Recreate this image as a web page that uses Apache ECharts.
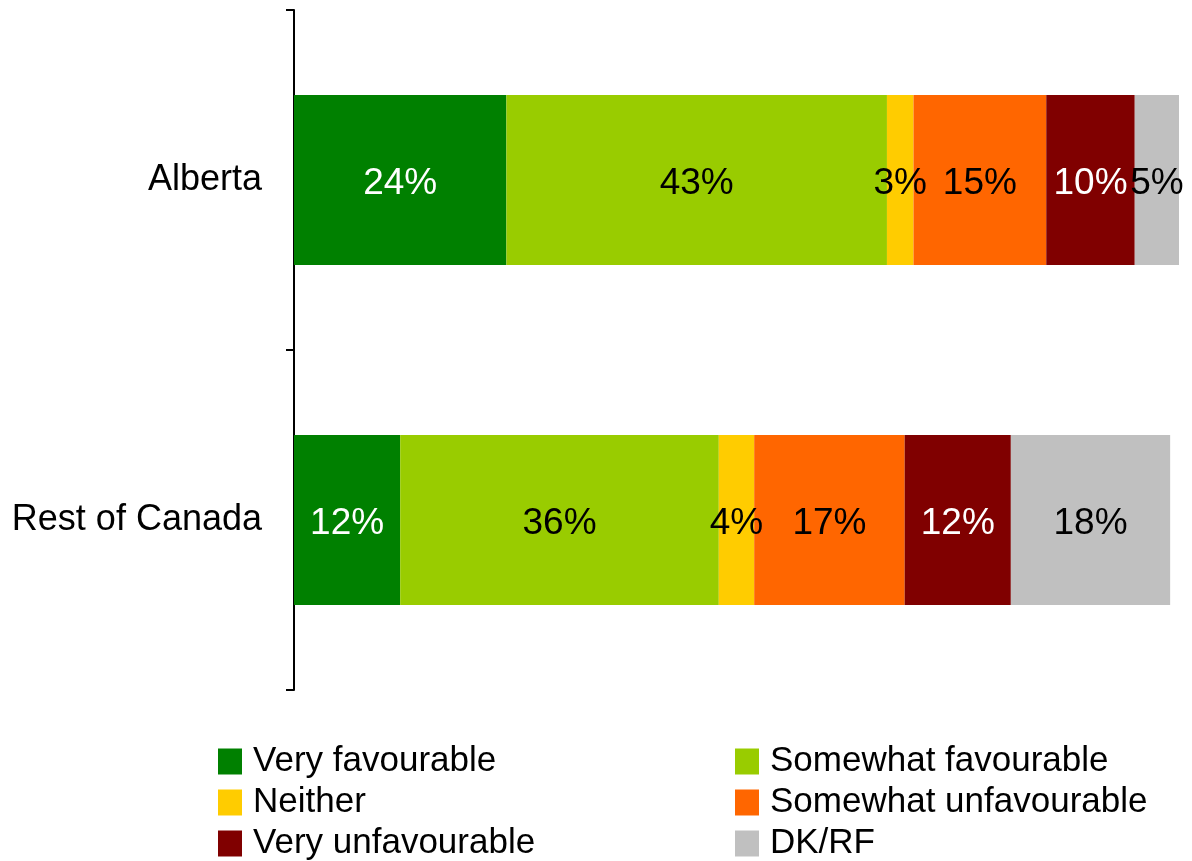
<!DOCTYPE html>
<html>
<head>
<meta charset="utf-8">
<script src="https://cdn.jsdelivr.net/npm/echarts@6/dist/echarts.min.js"></script>
<style>
html,body{margin:0;padding:0;background:#fff;}
#chart{width:1192px;height:861px;}
</style>
</head>
<body>
<div id="chart"></div>
<script>
const categories = ["Alberta", "Rest of Canada"];
const seriesNames = ["Very favourable", "Somewhat favourable", "Neither", "Somewhat unfavourable", "Very unfavourable", "DK/RF"];
const veryFavourable = [24, 12];
const somewhatFavourable = [43, 36];
const neither = [3, 4];
const somewhatUnfavourable = [15, 17];
const veryUnfavourable = [10, 12];
const dkrf = [5, 18];

const values = [veryFavourable, somewhatFavourable, neither, somewhatUnfavourable, veryUnfavourable, dkrf];
const colors = ["#008000", "#99CC00", "#FFCC00", "#FF6600", "#800000", "#C0C0C0"];
const labelColors = ["#ffffff", "#000000", "#000000", "#000000", "#ffffff", "#000000"];
const FONT = "'Liberation Sans', Arial, Helvetica, sans-serif";

const chart = echarts.init(document.getElementById('chart'), null, {renderer: 'canvas'});

const series = seriesNames.map((name, i) => ({
  name: name,
  type: 'bar',
  stack: 'total',
  barWidth: '50%',
  data: values[i],
  itemStyle: {color: colors[i]},
  label: {
    show: true,
    position: 'inside',
    formatter: '{c}%',
    color: labelColors[i],
    fontFamily: FONT,
    fontSize: 37,
    textBorderWidth: 0,
    offset: [0, 4]
  },
  emphasis: {disabled: true},
  animation: false
}));

const legendText = {fontFamily: FONT, fontSize: 35, color: '#000', lineHeight: 34, padding: [0, 0, 0, 6]};

chart.setOption({
  backgroundColor: '#ffffff',
  animation: false,
  grid: {left: 294, right: 13, top: 10, bottom: 171, containLabel: false},
  xAxis: {type: 'value', min: 0, max: 100, show: false},
  yAxis: {
    type: 'category',
    data: categories,
    inverse: true,
    axisLine: {show: true, lineStyle: {color: '#000', width: 2}},
    axisTick: {show: true, length: 8, alignWithLabel: false, lineStyle: {color: '#000', width: 2}},
    axisLabel: {fontFamily: FONT, fontSize: 36, color: '#000', margin: 32, padding: [6, 0, 0, 0]},
    splitLine: {show: false}
  },
  legend: [
    {
      orient: 'vertical', left: 213, top: 739, height: 130,
      itemWidth: 24, itemHeight: 26, itemGap: 6,
      icon: 'rect', selectedMode: false,
      data: [seriesNames[0], seriesNames[2], seriesNames[4]],
      textStyle: legendText
    },
    {
      orient: 'vertical', left: 730, top: 739, height: 130,
      itemWidth: 24, itemHeight: 26, itemGap: 6,
      icon: 'rect', selectedMode: false,
      data: [seriesNames[1], seriesNames[3], seriesNames[5]],
      textStyle: legendText
    }
  ],
  series: series
});
</script>
</body>
</html>
